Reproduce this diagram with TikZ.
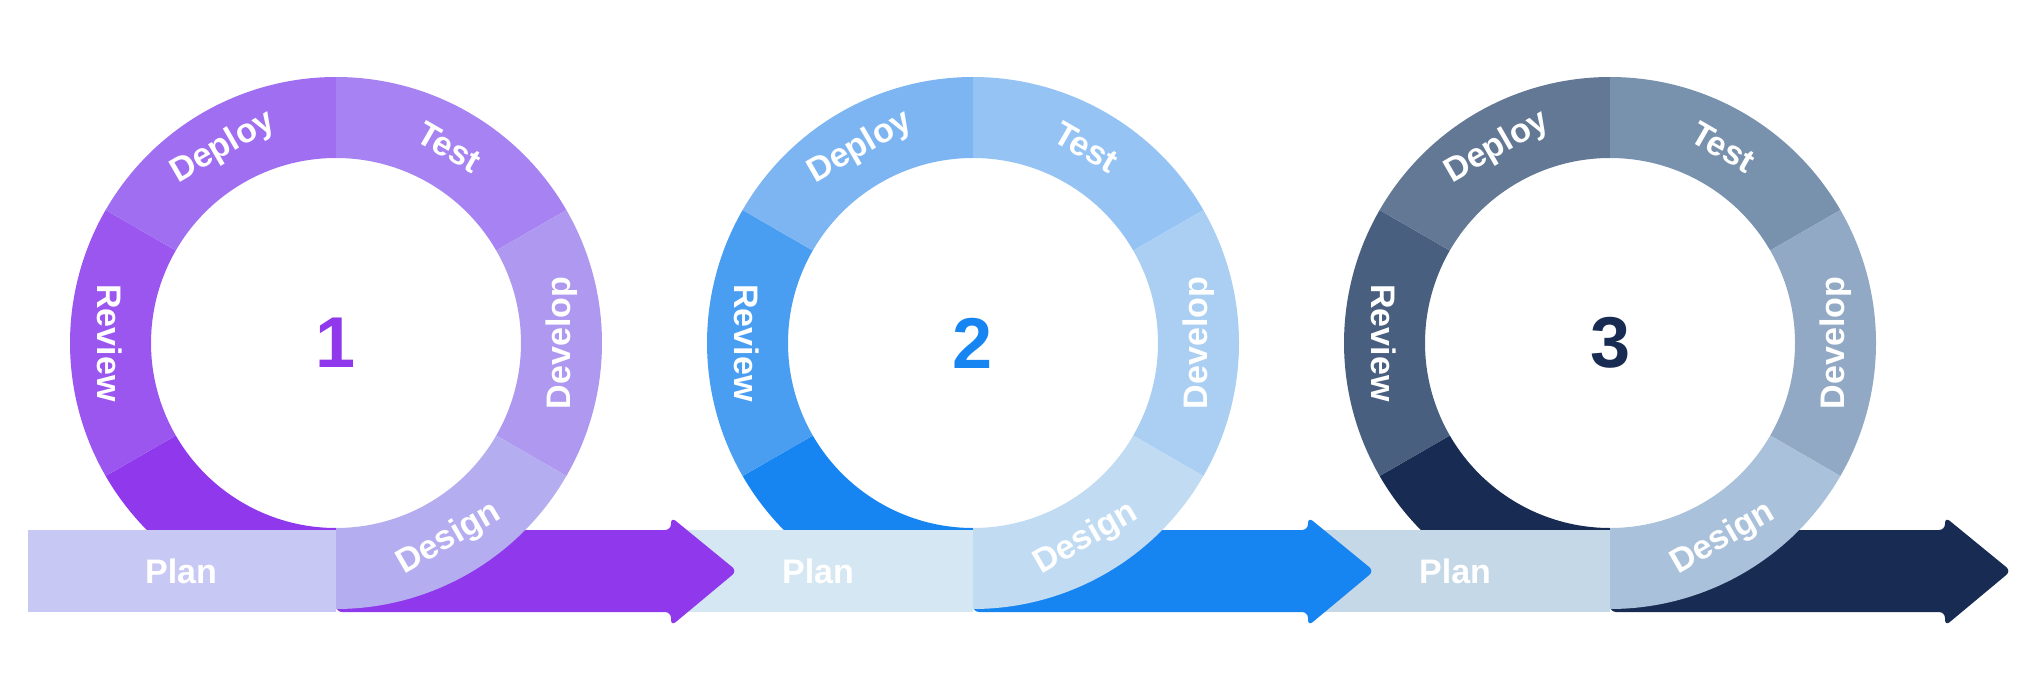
\documentclass[tikz,border=0pt]{standalone}
\usepackage{fontspec}
\setmainfont{Liberation Sans}
\usetikzlibrary{calc}

% stage colours: review, deploy, test, develop, design, plan, dark
\definecolor{aRev}{HTML}{9A56EF}\definecolor{aDep}{HTML}{A06EF0}\definecolor{aTes}{HTML}{A682F2}
\definecolor{aDev}{HTML}{AE98F0}\definecolor{aDes}{HTML}{B4ADF0}\definecolor{aPla}{HTML}{C8C8F5}
\definecolor{aDrk}{HTML}{9039EC}
\definecolor{bRev}{HTML}{4A9EF2}\definecolor{bDep}{HTML}{7DB5F2}\definecolor{bTes}{HTML}{94C3F4}
\definecolor{bDev}{HTML}{AACFF3}\definecolor{bDes}{HTML}{C0DBF2}\definecolor{bPla}{HTML}{D5E7F3}
\definecolor{bDrk}{HTML}{1685F2}
\definecolor{cRev}{HTML}{495F80}\definecolor{cDep}{HTML}{627895}\definecolor{cTes}{HTML}{7891AD}
\definecolor{cDev}{HTML}{91A9C4}\definecolor{cDes}{HTML}{A9C1DA}\definecolor{cPla}{HTML}{C5D8E8}
\definecolor{cDrk}{HTML}{182B52}

\tikzset{
  lbl/.style={text=white,inner sep=1pt,font=\bfseries\fontsize{17}{17}\selectfont},
  num/.style={font=\bfseries\fontsize{36}{36}\selectfont},
}
\newcommand{\seg}[4]{% colour, centre x, start, end
  \fill[#1] ($(#2,338)+(#3:266)$) arc[start angle=#3,end angle=#4,radius=266]
    -- ($(#2,338)+(#4:185)$) arc[start angle=#4,end angle=#3,radius=185] -- cycle;}

\begin{document}
\begin{tikzpicture}[x=0.5pt,y=0.5pt]
\useasboundingbox (0,0) rectangle (2028,681);

% rings
\foreach \s/\cx in {a/336,b/973,c/1610}{
  \seg{\s Drk}{\cx}{210}{270}
  \seg{\s Rev}{\cx}{150}{210}
  \seg{\s Dep}{\cx}{90}{150}
  \seg{\s Tes}{\cx}{30}{90}
  \seg{\s Dev}{\cx}{-30}{30}
}

% plan bars
\foreach \s/\cx in {a/336,b/973,c/1610}{
  \fill[\s Pla] (\cx-308,69) rectangle (\cx,151);
}

% arrows
\foreach \s/\cx in {a/336,b/973,c/1610}{
  \fill[\s Drk,rounded corners=3pt] (\cx,151) -- (\cx+335,151) -- (\cx+335,164)
    -- (\cx+401,110) -- (\cx+335,55) -- (\cx+335,69) -- (\cx,69) -- cycle;
}

% design segments on top
\foreach \s/\cx in {a/336,b/973,c/1610}{
  \seg{\s Des}{\cx}{-90}{-30}
}

% labels
\foreach \s/\cx/\n in {a/336/1,b/973/2,c/1610/3}{
  \node[num,text=\s Drk] (num\n) at (\cx,338) {\n};
  \node[lbl,rotate=30] (deploy\n) at ($(\cx,338)+(120:226)$) {Deploy};
  \node[lbl,rotate=-30] (test\n) at ($(\cx,338)+(60:226)$) {Test};
  \node[lbl,rotate=90] (develop\n) at ($(\cx,338)+(0:226)$) {Develop};
  \node[lbl,rotate=-90] (review\n) at ($(\cx,338)+(180:226)$) {Review};
  \node[lbl,rotate=30] (design\n) at ($(\cx,338)+(-60:226)$) {Design};
  \node[lbl] (plan\n) at (\cx-155,110) {Plan};
}

\end{tikzpicture}
\end{document}
